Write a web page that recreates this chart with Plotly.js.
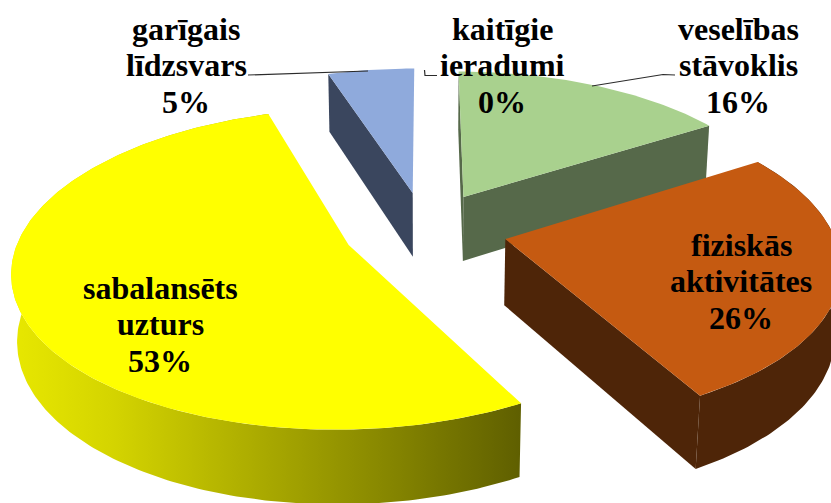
<!DOCTYPE html><html><head><meta charset="utf-8"><script src="https://cdn.plot.ly/plotly-3.0.1.min.js"></script><style>html,body{margin:0;background:#fff}</style></head><body><div id="c" style="width:831px;height:503px"></div><script>
const categories=['veselības<br>stāvoklis','fiziskās<br>aktivitātes','sabalansēts<br>uzturs','garīgais<br>līdzsvars','kaitīgie<br>ieradumi'];
const values=[16,26,53,5,0];
const topColors=['#a9d18e','#c55a11','#ffff00','#8faadc','#ed7d31'];
const wallColors=['#56694a','#4e2508','#8a8a00','#3a465e','#5e2f10'];
const labelX=[738,741,160,186,502];
const labelY=[65,281,324,65,65];
const leaderX=[[675,663,592],null,null,[248,368],[424.5,425,437]];
const leaderY=[[75,74.5,86],null,null,[75,71],[70,75.5,75.5]];

// Perspective view of an exploded pie, in the pixel units of the hidden axes
const cam={X0:425.1,Y0:229.46,A:326.98,B:152.6,C:66.52,k:.147,m:.014,e:.251};
const total=values.reduce((a,b)=>a+b,0);
let run=0;
const slices=values.map(v=>{const s={a:run/total,b:(run+v)/total};run+=v;return s;});
const [gr,or,ye,bl]=slices;
function pt(s,th,z){
  const mid=(s.a+s.b)*Math.PI;
  let u=cam.e*Math.sin(mid),w=cam.e*Math.cos(mid);
  if(th!==null){u+=Math.sin(th*2*Math.PI);w+=Math.cos(th*2*Math.PI);}
  const d=1+cam.k*w+cam.m*z;
  return [cam.X0+cam.A*u/d,cam.Y0+(-cam.B*w+cam.C*z)/d];
}
function arc(s,a,b,z){const n=Math.max(2,Math.ceil((b-a)*400));const o=[];for(let i=0;i<=n;i++)o.push(pt(s,a+(b-a)*i/n,z));return o;}
function poly(p,color,extra){
  return Object.assign({type:'scatter',mode:'lines',x:p.map(q=>q[0]),y:p.map(q=>q[1]),fill:'toself',fillcolor:color,line:{width:0,color:color},hoverinfo:'skip',showlegend:false},extra||{});
}
function radialFace(s,th,color){return poly([pt(s,null,0),pt(s,th,0),pt(s,th,1),pt(s,null,1)],color);}
function rimWall(s,color,extra){return poly(arc(s,s.a,s.b,0).concat(arc(s,s.a,s.b,1).reverse()),color,extra);}
function topFace(s,color){return poly([pt(s,null,0)].concat(arc(s,s.a,s.b,0)),color);}
const traces=[
  radialFace(bl,bl.a,wallColors[3]),topFace(bl,topColors[3]),
  radialFace(gr,gr.a,wallColors[0]),radialFace(gr,gr.b,wallColors[0]),topFace(gr,topColors[0]),
  rimWall(ye,wallColors[2],{fillgradient:{type:'horizontal',colorscale:[[0,'#e8e800'],[.2,'#d4d400'],[.42,'#b4b400'],[.7,'#8c8c00'],[1,'#5f5f00']]}}),topFace(ye,topColors[2]),
  rimWall(or,wallColors[1]),radialFace(or,or.b,wallColors[1]),topFace(or,topColors[1])
];
leaderX.forEach((lx,i)=>{if(lx)traces.push({type:'scatter',mode:'lines',x:lx,y:leaderY[i],line:{color:'#2b2b2b',width:1.2},hoverinfo:'skip',showlegend:false});});
const lineGap=36.5;
const annotations=[];
categories.forEach((c,i)=>{(c+'<br>'+values[i]+'%').split('<br>').forEach((line,j)=>annotations.push({x:labelX[i],y:labelY[i]+(j-1)*lineGap,xref:'x',yref:'y',showarrow:false,xanchor:'center',yanchor:'middle',
  text:'<b>'+line+'</b>',font:{family:'"Liberation Serif",serif',size:32,color:'#000'}}));});
Plotly.newPlot('c',traces,{width:831,height:503,margin:{l:0,r:0,t:0,b:0},paper_bgcolor:'#fff',plot_bgcolor:'#fff',showlegend:false,
  xaxis:{range:[0,831],visible:false,fixedrange:true},yaxis:{range:[503,0],visible:false,fixedrange:true},annotations},{displayModeBar:false,staticPlot:true});
</script></body></html>
